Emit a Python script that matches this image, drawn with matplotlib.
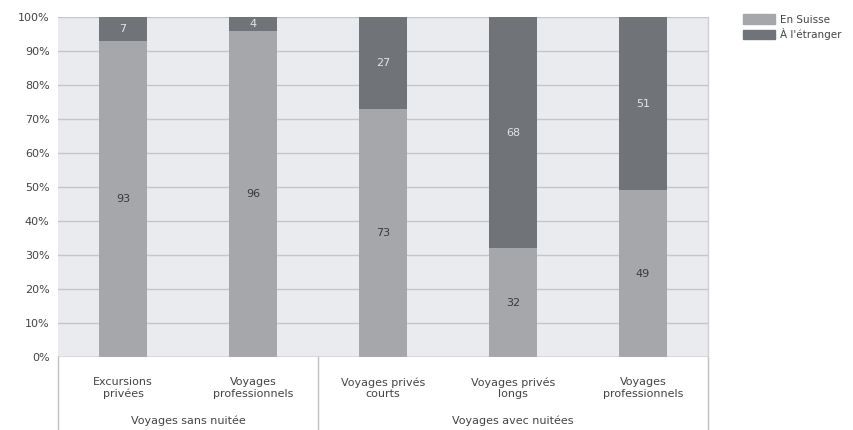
import matplotlib.pyplot as plt
from matplotlib.patches import Patch
from matplotlib.lines import Line2D

# Share of trips by destination (percent)
categories = ["Excursions\nprivées", "Voyages\nprofessionnels", "Voyages privés\ncourts",
              "Voyages privés\nlongs", "Voyages\nprofessionnels"]
groups = ["Voyages sans nuitée", "Voyages avec nuitées"]
group_sizes = [2, 3]
en_suisse = [93, 96, 73, 32, 49]
etranger = [7, 4, 27, 68, 51]
series_names = ["En Suisse", "À l'étranger"]

light = "#a5a7aa"
dark = "#707377"

plt.rcParams['font.family'] = ['Liberation Sans Narrow', 'DejaVu Sans']

fig = plt.figure(figsize=(8.54, 4.30), dpi=100)
W, H = 854, 430
ax = fig.add_axes([58 / W, (H - 357) / H, 650 / W, 340 / H])
ax.set_facecolor("#e9ebee")

x = range(len(categories))
ax.bar(x, en_suisse, width=0.37, color=light, zorder=2)
ax.bar(x, etranger, width=0.37, bottom=en_suisse, color=dark, zorder=2)

for i in x:
    ax.text(i, en_suisse[i] / 2, str(en_suisse[i]), ha="center", va="center",
            fontsize=8, color="#3a3a3a", zorder=3)
    ax.text(i, en_suisse[i] + etranger[i] / 2, str(etranger[i]), ha="center", va="center",
            fontsize=8, color="#e4e4e4", zorder=3)

ax.set_xlim(-0.5, len(categories) - 0.5)
ax.set_ylim(0, 100)
ax.set_yticks(range(0, 101, 10))
ax.set_yticklabels([f"{v}%" for v in range(0, 101, 10)], fontsize=8, color="#444444")
ax.yaxis.grid(True, color="#c4c6c8", linewidth=1, zorder=1)
ax.tick_params(axis="y", length=0, pad=6)
ax.set_xticks([])
for side in ["top", "right", "left", "bottom"]:
    ax.spines[side].set_visible(False)
ax.axhline(0, color="#b8b8b8", linewidth=1, zorder=3)

# Category labels and group labels under the axis
for i, lab in enumerate(categories):
    ax.text(i, -6, lab, ha="center", va="top", fontsize=8, color="#444444",
            linespacing=1.15, clip_on=False)

start = 0
bounds = [-0.5]
for g, n in zip(groups, group_sizes):
    mid = start + (n - 1) / 2
    ax.text(mid, -(421 - 357) / 3.4, g, ha="center", va="center", fontsize=8,
            color="#444444", clip_on=False)
    start += n
    bounds.append(start - 0.5)

for b in bounds:
    ax.add_line(Line2D([b, b], [0, -73 / 3.4], color="#c0c0c0", linewidth=1,
                       clip_on=False))
ax.add_line(Line2D([len(categories) - 0.5] * 2, [0, 100], color="#d0d0d0",
                   linewidth=1, clip_on=False))

handles = [Patch(color=light), Patch(color=dark)]
fig.legend(handles, series_names, loc="upper left", bbox_to_anchor=(734 / W, 1 - 5 / H),
           frameon=False, fontsize=7.5, handlelength=3.0, handleheight=1.0,
           handletextpad=0.5, labelspacing=0.35, labelcolor="#444444")

fig.savefig("out.png", dpi=100)
